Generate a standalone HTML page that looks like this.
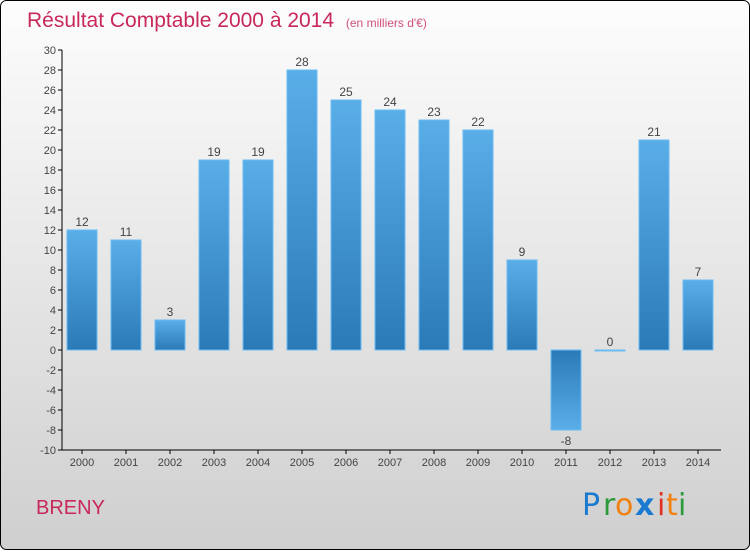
<!DOCTYPE html>
<html><head><meta charset="utf-8"><style>
body{margin:0;width:750px;height:550px;overflow:hidden;font-family:"Liberation Sans",sans-serif}
</style></head><body>
<svg width="750" height="550" xmlns="http://www.w3.org/2000/svg">
<defs>
<linearGradient id="bg" x1="0" y1="0" x2="0" y2="1"><stop offset="0" stop-color="#fdfdfd"/><stop offset="1" stop-color="#cfcfcf"/></linearGradient>
<linearGradient id="bp" x1="0" y1="0" x2="0" y2="1"><stop offset="0" stop-color="#5aaee8"/><stop offset="1" stop-color="#2a7ab8"/></linearGradient>
<linearGradient id="bn" x1="0" y1="0" x2="0" y2="1"><stop offset="0" stop-color="#2a7ab8"/><stop offset="1" stop-color="#5aaee8"/></linearGradient>
</defs>
<rect x="0.5" y="0.5" width="749" height="549" rx="6" fill="url(#bg)" stroke="#000"/>
<text x="27" y="27" font-size="21" fill="#c8285a">Résultat Comptable 2000 à 2014 <tspan font-size="12" dx="6" fill="#d0507a">(en milliers d'€)</tspan></text>
<g id="axes"></g>
<g id="bars"></g>
<text x="36" y="514" font-size="20" fill="#c8285a">BRENY</text>
<g font-size="30" font-family="'DejaVu Sans',sans-serif">
<text x="582" y="515" fill="#1a7ad0">P</text><text x="603" y="515" fill="#2a9a3a">r</text><text x="615" y="515" fill="#f08010">o</text><text x="635" y="515" fill="#1a7ad0" font-weight="bold">x</text><text x="657" y="515" fill="#e03020">i</text><text x="666" y="515" fill="#f08010">t</text><text x="678" y="515" fill="#2a9a3a">i</text>
</g>
</svg>
<script>
const years=["2000","2001","2002","2003","2004","2005","2006","2007","2008","2009","2010","2011","2012","2013","2014"];
const values=[12,11,3,19,19,28,25,24,23,22,9,-8,0,21,7];
const yTicks=[30,28,26,24,22,20,18,16,14,12,10,8,6,4,2,0,-2,-4,-6,-8,-10];
const NS="http://www.w3.org/2000/svg";
const y=v=>350-v*10, x=i=>82+i*44;
function mk(t,a,p,txt){const e=document.createElementNS(NS,t);for(const k in a)e.setAttribute(k,a[k]);if(txt!==undefined)e.textContent=txt;p.appendChild(e);return e;}
const ax=document.getElementById('axes'), bg=document.getElementById('bars');
const yl=mk('line',{x1:62,y1:50,x2:62,y2:450,stroke:'#000'},ax);


const xl=mk('line',{x1:62,y1:450,x2:721,y2:450,stroke:'#000'},ax);


yTicks.forEach(v=>{
 mk('line',{x1:58,y1:y(v),x2:62,y2:y(v),stroke:'#000'},ax);
 const t=mk('text',{x:56,y:y(v)+4,'text-anchor':'end','font-size':11,fill:'#444'},ax,String(v));
 
 
});
years.forEach((yr,i)=>{
 mk('line',{x1:x(i),y1:450,x2:x(i),y2:454,stroke:'#000'},ax);
 const t=mk('text',{x:x(i),y:466,'text-anchor':'middle','font-size':11,fill:'#444'},ax,yr);
 
 
 const v=values[i];
 const top=Math.min(y(v),y(0)), h=Math.max(Math.abs(y(v)-y(0)),1);
 const r=mk('rect',{x:x(i)-15,y:top,width:30,height:h,fill:v<0?'url(#bn)':'url(#bp)',stroke:'#6bbcf0','stroke-width':1},bg);
 
 
 const l=mk('text',{x:x(i),y:v<0?y(v)+15:y(v)-4,'text-anchor':'middle','font-size':12,fill:'#444'},bg,String(v));
 
 
});
</script>
</body></html>
